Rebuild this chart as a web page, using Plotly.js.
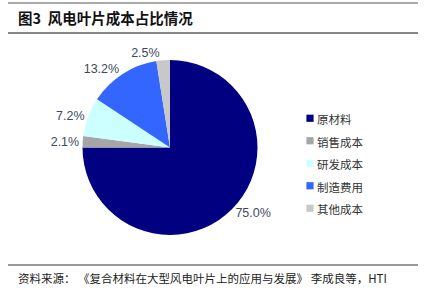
<!DOCTYPE html>
<html><head><meta charset="utf-8">
<script src="https://cdn.plot.ly/plotly-3.0.1.min.js"></script>
<style>html,body{margin:0;padding:0;background:#fff;}#c{width:424px;height:301px;}
.legendpoints path{transform: translate(33px,0px) scale(0.6);}
</style>
</head><body><div id="c"></div>
<script>
var categories = ["原材料", "销售成本", "研发成本", "制造费用", "其他成本"];
var values = [75.0, 2.1, 7.2, 13.2, 2.5];
var colors = ["#000080", "#A6A6A6", "#CCFFFF", "#3366FF", "#C8C8C8"];
var titleText = "<b>图3  风电叶片成本占比情况</b>";
var sourceText = "资料来源： 《复合材料在大型风电叶片上的应用与发展》 李成良等，HTI";

var W = 424, H = 301;
function px(x){return x / W;}
function py(y){return 1 - y / H;}

var legendLabels = categories.map(function(c){return '<span style="font-size:11.5px">' + c + '</span>';});

var trace = {
  type: "pie",
  labels: legendLabels,
  values: values,
  sort: false,
  direction: "clockwise",
  rotation: 0,
  marker: {colors: colors, line: {width: 0}},
  textinfo: "percent",
  texttemplate: "%{value:.1f}%",
  textposition: "outside",
  textfont: {family: "Liberation Sans, Arial, sans-serif", size: 12.5, color: "#3b4a5e"},
  hoverinfo: "none",
  domain: {x: [px(82), px(258)], y: [py(235), py(60)]}
};

var layout = {
  width: W, height: H,
  margin: {l: 0, r: 0, t: 0, b: 0},
  paper_bgcolor: "#fff",
  showlegend: true,
  legend: {
    x: px(277), y: py(102), xanchor: "left", yanchor: "top",
    font: {family: "Noto Sans CJK SC", size: 15, color: "#333"},
    itemwidth: 30,
    traceorder: "normal"
  },
  shapes: [
    {type: "line", xref: "paper", yref: "paper", x0: px(8), x1: px(418), y0: py(3), y1: py(3), line: {color: "#555", width: 1}},
    {type: "line", xref: "paper", yref: "paper", x0: px(8), x1: px(418), y0: py(33), y1: py(33), line: {color: "#111", width: 1.2}},
    {type: "line", xref: "paper", yref: "paper", x0: px(8), x1: px(418), y0: py(265), y1: py(265), line: {color: "#999", width: 2}}
  ],
  annotations: [
    {text: titleText, xref: "paper", yref: "paper", x: px(16), y: py(17), xanchor: "left", yanchor: "middle", showarrow: false,
     font: {family: "Noto Sans CJK SC", size: 14.5, color: "#111"}},
    {text: sourceText, xref: "paper", yref: "paper", x: px(16), y: py(278), xanchor: "left", yanchor: "middle", showarrow: false,
     font: {family: "Noto Sans CJK SC", size: 11.5, color: "#222"}}
  ]
};

Plotly.newPlot("c", [trace], layout, {displayModeBar: false, staticPlot: true});
</script></body></html>
